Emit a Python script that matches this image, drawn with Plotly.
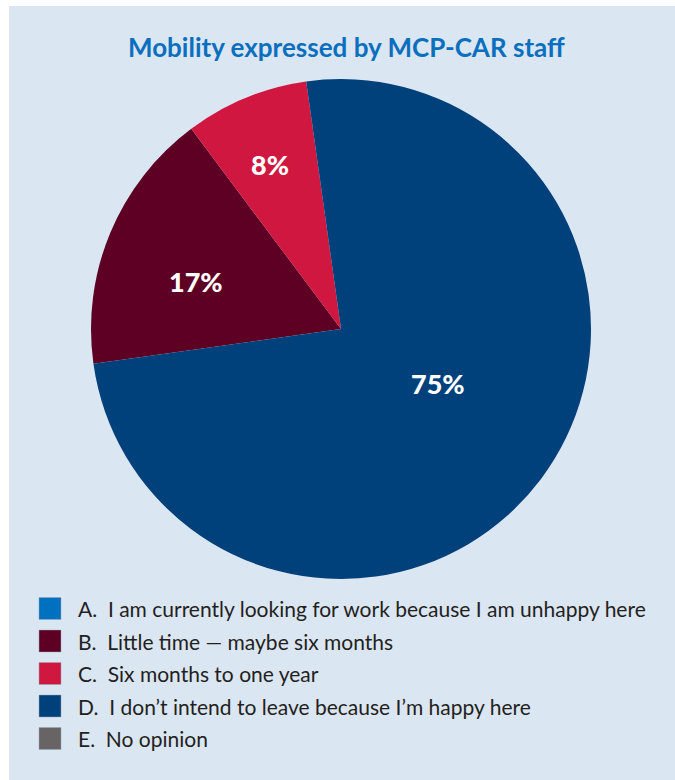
import plotly.graph_objects as go

# Survey answers and their shares (%)
labels = [
    "A.  I am currently looking for work because I am unhappy here",
    "B.  Little time \u2014 maybe six months",
    "C.  Six months to one year",
    "D.  I don\u2019t intend to leave because I\u2019m happy here",
    "E.  No opinion",
]
values = [0, 17, 8, 75, 0]
colors = ["#0070c0", "#5d0024", "#d0173f", "#00407b", "#686464"]

title_text = "Mobility expressed by MCP-CAR staff"

W, H = 675, 780
panel_bg = "#dbe6f3"

# pixel anchor of each slice's percentage label (None = no label)
label_xy = [None, (196, 281), (270, 164), (438, 383), None]

fig = go.Figure()
fig.add_trace(go.Pie(
    labels=labels,
    values=values,
    sort=False,
    direction="clockwise",
    rotation=262,
    marker=dict(colors=colors, line=dict(width=0)),
    textinfo="none",
    showlegend=False,
    hoverinfo="label+percent",
    domain=dict(x=[91 / W, 591 / W], y=[1 - 579 / H, 1 - 79 / H]),
))

# Framed light-blue panel behind the chart
shapes = [dict(type="rect", xref="paper", yref="paper",
               x0=9 / W, x1=1.01, y0=-0.01, y1=1 - 6 / H,
               fillcolor=panel_bg, line=dict(width=0), layer="below")]
annotations = [dict(text=title_text, xref="paper", yref="paper",
                    x=346 / W, y=1 - 47 / H, xanchor="center", yanchor="middle",
                    showarrow=False,
                    font=dict(family="Lato", size=26, color="#0a6fbd", weight="bold"))]

# Percentage labels inside the slices
total = sum(values)
for v, xy in zip(values, label_xy):
    if xy is None or v == 0:
        continue
    annotations.append(dict(text=f"{round(100 * v / total)}%", xref="paper", yref="paper",
                            x=xy[0] / W, y=1 - xy[1] / H,
                            xanchor="center", yanchor="middle", showarrow=False,
                            font=dict(family="Lato", size=27, color="white", weight=900)))

# Legend: one square swatch and one text line per answer
row0, step, sw = 608.5, 32.5, 22
for i, (lab, col) in enumerate(zip(labels, colors)):
    yc = row0 + i * step
    shapes.append(dict(type="rect", xref="paper", yref="paper",
                       x0=39 / W, x1=(39 + sw) / W,
                       y0=1 - (yc + sw / 2) / H, y1=1 - (yc - sw / 2) / H,
                       fillcolor=col, line=dict(width=0.5, color="#9aa7b5")))
    annotations.append(dict(text=lab, xref="paper", yref="paper",
                            x=76 / W, y=1 - yc / H, xanchor="left", yanchor="middle",
                            showarrow=False,
                            font=dict(family="Lato", size=21, color="#231f20")))

fig.update_layout(
    width=W, height=H,
    margin=dict(l=0, r=0, t=0, b=0),
    paper_bgcolor="white",
    plot_bgcolor=panel_bg,
    shapes=shapes,
    annotations=annotations,
)

fig.write_html("out.html")
